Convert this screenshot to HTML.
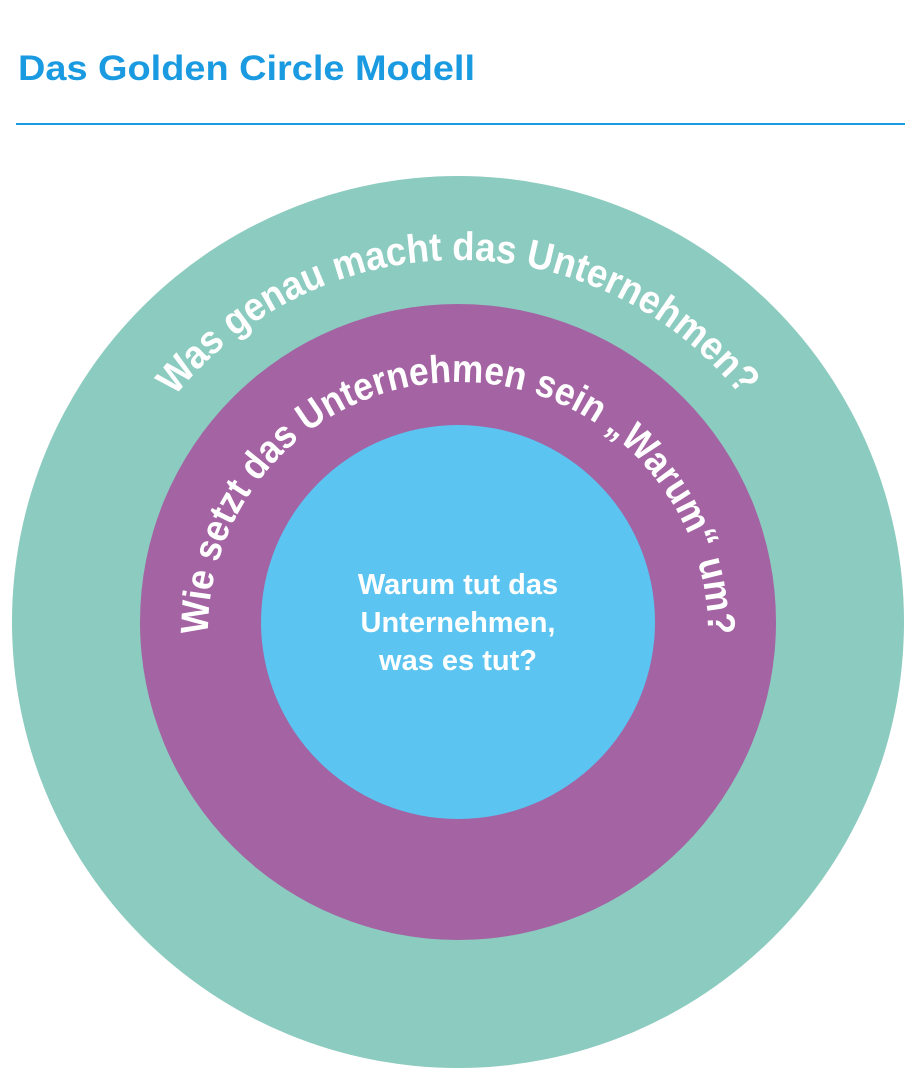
<!DOCTYPE html>
<html><head><meta charset="utf-8"><style>
html,body{margin:0;padding:0;background:#fff;width:917px;height:1080px;overflow:hidden}
</style></head><body>
<svg width="917" height="1080" viewBox="0 0 917 1080" xmlns="http://www.w3.org/2000/svg">
<text x="18" y="80" font-family="Liberation Sans, sans-serif" font-weight="bold" font-size="35" fill="#1a9ae0" textLength="457" lengthAdjust="spacingAndGlyphs">Das Golden Circle Modell</text>
<rect x="16" y="123" width="889" height="2" fill="#1a9ae0"/>
<circle cx="458" cy="622" r="446" fill="#8ccbbf"/>
<circle cx="458" cy="622" r="318" fill="#a463a3"/>
<circle cx="458" cy="622" r="197" fill="#5bc4f1"/>
<defs>
<path id="outer" d="M 96 622 A 362 362 0 0 1 820 622"/>
<path id="inner" d="M 208 632 A 250 250 0 1 1 708 632"/>
</defs>
<text font-family="Liberation Sans, sans-serif" font-weight="bold" font-size="40" fill="#fff">
<textPath href="#outer" startOffset="50%" text-anchor="middle" textLength="650" lengthAdjust="spacingAndGlyphs">Was genau macht das Unternehmen?</textPath></text>
<text font-family="Liberation Sans, sans-serif" font-weight="bold" font-size="39" fill="#fff">
<textPath href="#inner" startOffset="50%" text-anchor="middle" textLength="790" lengthAdjust="spacingAndGlyphs">Wie setzt das Unternehmen sein „Warum“ um?</textPath></text>
<g font-family="Liberation Sans, sans-serif" font-weight="bold" font-size="29" fill="#fff" text-anchor="middle">
<text x="458" y="594">Warum tut das</text>
<text x="458" y="632">Unternehmen,</text>
<text x="458" y="670">was es tut?</text>
</g>
</svg>
</body></html>
